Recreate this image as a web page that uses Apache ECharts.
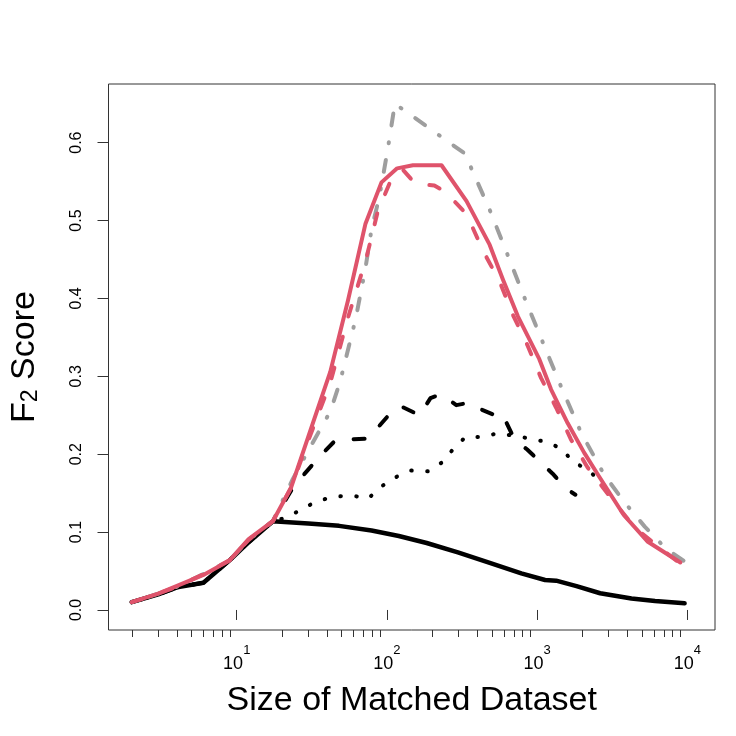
<!DOCTYPE html>
<html>
<head>
<meta charset="utf-8">
<script src="https://cdn.jsdelivr.net/npm/echarts@6/dist/echarts.min.js"></script>
<style>
  html, body { margin: 0; padding: 0; background: #fff; }
  #chart { width: 736px; height: 736px; }
</style>
</head>
<body>
<div id="chart"></div>
<script>
// [size, F2] pairs
var blackSolid = [[2,0.010],[3,0.020],[4,0.029],[6,0.035],[9,0.064],[12,0.087],[17.4,0.114],[30,0.111],[48,0.108],[79,0.102],[120,0.095],[184,0.086],[297,0.074],[484,0.0605],[785,0.047],[1130,0.0385],[1340,0.0376],[1830,0.0307],[2630,0.0215],[4250,0.0147],[6100,0.0115],[9600,0.0086]];
var blackDashed = [[2,0.010],[3,0.020],[4,0.029],[6,0.035],[9,0.064],[12,0.087],[17.4,0.114],[24,0.159],[36,0.198],[45,0.217],[56,0.219],[75,0.220],[107,0.254],[114,0.260],[129,0.260],[165,0.250],[195,0.272],[230,0.277],[290,0.263],[350,0.266],[430,0.257],[540,0.249],[580,0.252],[623,0.241],[708,0.219],[859,0.206],[1091,0.187],[1270,0.175],[1556,0.156],[1800,0.148]];
var blackDotted = [[2,0.010],[3,0.020],[4,0.029],[6,0.035],[9,0.064],[12,0.087],[17.4,0.114],[21.8,0.119],[27.3,0.130],[34.7,0.140],[44.8,0.1455],[58,0.147],[75,0.143],[91,0.158],[113,0.170],[145,0.179],[189,0.178],[231,0.189],[275,0.206],[333,0.222],[430,0.222],[549,0.227],[904,0.220],[1164,0.2155],[1457,0.207],[1738,0.190],[2188,0.180],[2760,0.161],[3160,0.144]];
var grayDashDot = [[2,0.010],[3,0.021],[4,0.030],[6,0.046],[9,0.064],[12,0.090],[17.4,0.114],[23.6,0.168],[30,0.205],[42,0.255],[48.6,0.292],[62,0.374],[72,0.439],[79,0.489],[89,0.530],[101,0.590],[113,0.650],[330,0.586],[483,0.514],[630,0.458],[824,0.401],[1095,0.343],[1443,0.287],[1960,0.228],[2790,0.174],[3830,0.138],[5210,0.107],[7280,0.078],[11300,0.053]];
var redDashed = [[2,0.010],[3,0.021],[4,0.030],[6,0.046],[9,0.064],[12,0.090],[17.4,0.114],[23,0.157],[30,0.218],[42,0.292],[55,0.375],[73,0.452],[87,0.512],[108,0.555],[128,0.565],[155,0.547],[207,0.545],[245,0.537],[340,0.508],[437,0.461],[562,0.422],[690,0.379],[867,0.339],[1062,0.298],[1337,0.260],[1680,0.219],[2170,0.183],[3100,0.144],[4500,0.105],[8900,0.060]];
var redSolid = [[2,0.010],[3,0.021],[4,0.031],[6,0.045],[9,0.064],[12,0.091],[17.4,0.114],[23,0.157],[30,0.223],[42,0.306],[55,0.397],[72,0.496],[92,0.549],[117,0.567],[149,0.571],[231,0.571],[339,0.525],[483,0.469],[593,0.424],[745,0.377],[1035,0.322],[1240,0.283],[1597,0.240],[2057,0.202],[2575,0.172],[3777,0.122],[5430,0.088],[9000,0.061]];

var xMajor = [10, 100, 1000, 10000];
var xMinor = [2,3,4,5,6,7,8,9,20,30,40,50,60,70,80,90,200,300,400,500,600,700,800,900,2000,3000,4000,5000,6000,7000,8000,9000];
var yTicks = [0, 0.1, 0.2, 0.3, 0.4, 0.5, 0.6];

var chart = echarts.init(document.getElementById('chart'));
var font = 'Liberation Sans, Arial, Helvetica, sans-serif';

function line(data, color, width, dash) {
  return {
    type: 'line',
    data: data,
    showSymbol: false,
    symbol: 'none',
    lineStyle: { color: color, width: width, type: dash || 'solid', cap: 'round', join: 'round' }
  };
}

var option = {
  animation: false,
  backgroundColor: '#fff',
  grid: { left: 105, right: 21, top: 84, bottom: 106, show: true, borderColor: '#333', borderWidth: 1, backgroundColor: 'transparent' },
  xAxis: [{
    type: 'log',
    logBase: 10,
    min: 1.4,
    max: 15300,
    position: 'bottom',
    axisLine: { show: false },
    axisTick: { customValues: xMajor, length: 10, lineStyle: { color: '#333', width: 1 } },
    axisLabel: {
      customValues: xMajor,
      margin: 14,
      color: '#000',
      fontFamily: font,
      fontSize: 18,
      formatter: function (v) {
        return '{b|10}{s|' + Math.round(Math.log10(v)) + '}';
      },
      rich: {
        b: { fontSize: 18, fontFamily: font, color: '#000', verticalAlign: 'bottom' },
        s: { fontSize: 13, fontFamily: font, color: '#000', verticalAlign: 'bottom', padding: [0, 0, 16, 0] }
      }
    },
    splitLine: { show: false },
    name: 'Size of Matched Dataset',
    nameLocation: 'middle',
    nameGap: 54,
    nameTextStyle: { fontSize: 34, fontFamily: font, color: '#000', verticalAlign: 'top' }
  }, {
    type: 'log',
    logBase: 10,
    min: 1.4,
    max: 15300,
    position: 'bottom',
    axisLine: { show: false },
    axisTick: { customValues: xMinor, length: 7, lineStyle: { color: '#333', width: 1 } },
    axisLabel: { show: false },
    splitLine: { show: false }
  }],
  yAxis: {
    type: 'value',
    min: -0.0257,
    max: 0.6753,
    axisLine: { show: false },
    axisTick: { customValues: yTicks, length: 11, lineStyle: { color: '#333', width: 1 } },
    axisLabel: {
      customValues: yTicks,
      rotate: 90,
      margin: 24,
      fontSize: 16,
      fontFamily: font,
      color: '#000',
      formatter: function (v) { return v.toFixed(1); }
    },
    splitLine: { show: false },
    name: 'F{sub|2} Score',
    nameLocation: 'middle',
    nameGap: 66,
    nameTextStyle: {
      fontSize: 34,
      fontFamily: font,
      color: '#000',
      rich: { sub: { fontSize: 23, fontFamily: font, color: '#000', verticalAlign: 'bottom', padding: [12, 0, 0, 0] } }
    }
  },
  series: [
    line(blackSolid, '#000000', 4.5),
    line(blackDashed, '#000000', 4, [11, 21]),
    line(blackDotted, '#000000', 4, [0.5, 15.5]),
    line(grayDashDot, '#9E9E9E', 4, [1, 17, 12, 17]),
    line(redDashed, '#DF536B', 4, [11, 21]),
    line(redSolid, '#DF536B', 4)
  ]
};
chart.setOption(option);
</script>
</body>
</html>
